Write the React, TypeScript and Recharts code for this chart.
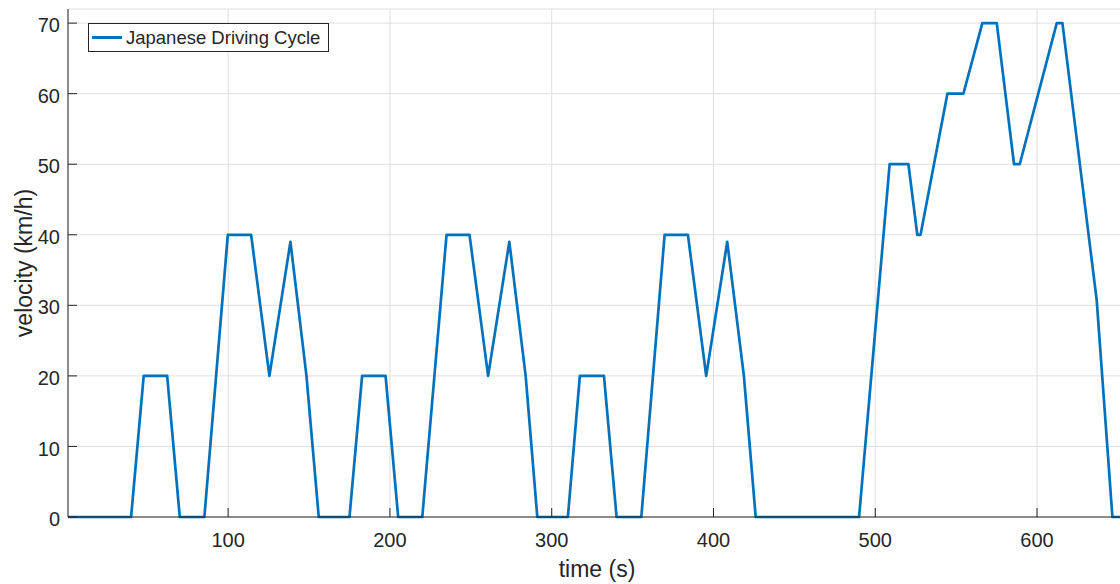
import { LineChart, Line, XAxis, YAxis, CartesianGrid, Legend } from 'recharts';

// Japanese driving cycle (s, km/h)
const time = [
  1, 40, 47.8, 62.3, 70.1, 85.3, 99.8, 114.2, 125.5, 138.5, 148.4, 156,
  175, 182.8, 197.3, 205.1, 220, 235, 249.2, 260.7, 273.8, 283.9, 291.1,
  310, 317.4, 332.3, 340.1, 355.4, 369.8, 384.2, 395.5, 408.5, 418.8, 426.1,
  490, 508.9, 520.5, 526, 528, 544.6, 554.5, 566.2, 575.1, 585.8, 589.3, 612.2, 615.7, 636.9, 646.6, 655,
];
const velocity = [
  0, 0, 20, 20, 0, 0, 40, 40, 20, 39, 20, 0,
  0, 20, 20, 0, 0, 40, 40, 20, 39, 20, 0,
  0, 20, 20, 0, 0, 40, 40, 20, 39, 20, 0,
  0, 50, 50, 40, 40, 60, 60, 70, 70, 50, 50, 70, 70, 30.7, 0, 0,
];
const xTicks = [100, 200, 300, 400, 500, 600];
const yTicks = [0, 10, 20, 30, 40, 50, 60, 70];

const data = time.map((t, i) => ({ t, v: velocity[i] }));

const ink = '#262626';
const font = '"Liberation Sans", Arial, sans-serif';
const tickStyle = { fill: ink, fontSize: 20, fontFamily: font };

export default function App() {
  return (
    <div style={{ position: 'absolute', left: 0, top: 0, width: 1120, height: 584, overflow: 'hidden', background: '#fff' }}>
      <LineChart width={1126} height={584} data={data} margin={{ top: 9, right: 0, left: 0, bottom: 0 }}>
        <CartesianGrid stroke="#dfdfdf" strokeWidth={1} />
        <XAxis
          dataKey="t"
          type="number"
          domain={[1, 655]}
          ticks={xTicks}
          height={67}
          stroke={ink}
          tickSize={-9}
          tickMargin={25}
          tick={tickStyle}
          label={(p: any) => (
            <text
              x={p.viewBox.x + p.viewBox.width / 2}
              y={p.viewBox.y + 52}
              textAnchor="middle"
              dominantBaseline="central"
              fill={ink}
              fontSize={23}
              fontFamily={font}
            >
              time (s)
            </text>
          )}
        />
        <XAxis xAxisId="top" dataKey="t" type="number" orientation="top" domain={[1, 655]} ticks={xTicks} height={0} stroke={ink} tickSize={-9} tick={false} />
        <YAxis
          type="number"
          domain={[0, 72]}
          ticks={yTicks}
          width={68}
          stroke={ink}
          tickSize={-9}
          tickMargin={17}
          tick={{ ...tickStyle, dy: 2 }}
          label={(p: any) => (
            <text
              x={24}
              y={p.viewBox.y + p.viewBox.height / 2}
              transform={`rotate(-90 24 ${p.viewBox.y + p.viewBox.height / 2})`}
              textAnchor="middle"
              dominantBaseline="central"
              fill={ink}
              fontSize={23}
              fontFamily={font}
            >
              velocity (km/h)
            </text>
          )}
        />
        <YAxis yAxisId="right" orientation="right" type="number" domain={[0, 72]} ticks={yTicks} width={0} stroke={ink} tickSize={-9} tick={false} />
        <Legend
          layout="horizontal"
          verticalAlign="middle"
          align="center"
          wrapperStyle={{ position: 'absolute', left: 88, top: 23, width: 'auto', height: 'auto' }}
          content={() => (
            <div
              style={{
                boxSizing: 'border-box',
                width: 241,
                height: 29,
                border: `1px solid ${ink}`,
                background: '#fff',
                display: 'flex',
                alignItems: 'center',
              }}
            >
              <span style={{ display: 'inline-block', width: 30, height: 3, background: '#0072BD', marginLeft: 3 }} />
              <span style={{ marginLeft: 4, fontSize: 18.5, fontFamily: font, color: ink, whiteSpace: 'nowrap' }}>
                Japanese Driving Cycle
              </span>
            </div>
          )}
        />
        <Line
          type="linear"
          dataKey="v"
          name="Japanese Driving Cycle"
          stroke="#0072BD"
          strokeWidth={2.7}
          strokeLinejoin="round"
          dot={false}
          activeDot={false}
          isAnimationActive={false}
        />
      </LineChart>
    </div>
  );
}
